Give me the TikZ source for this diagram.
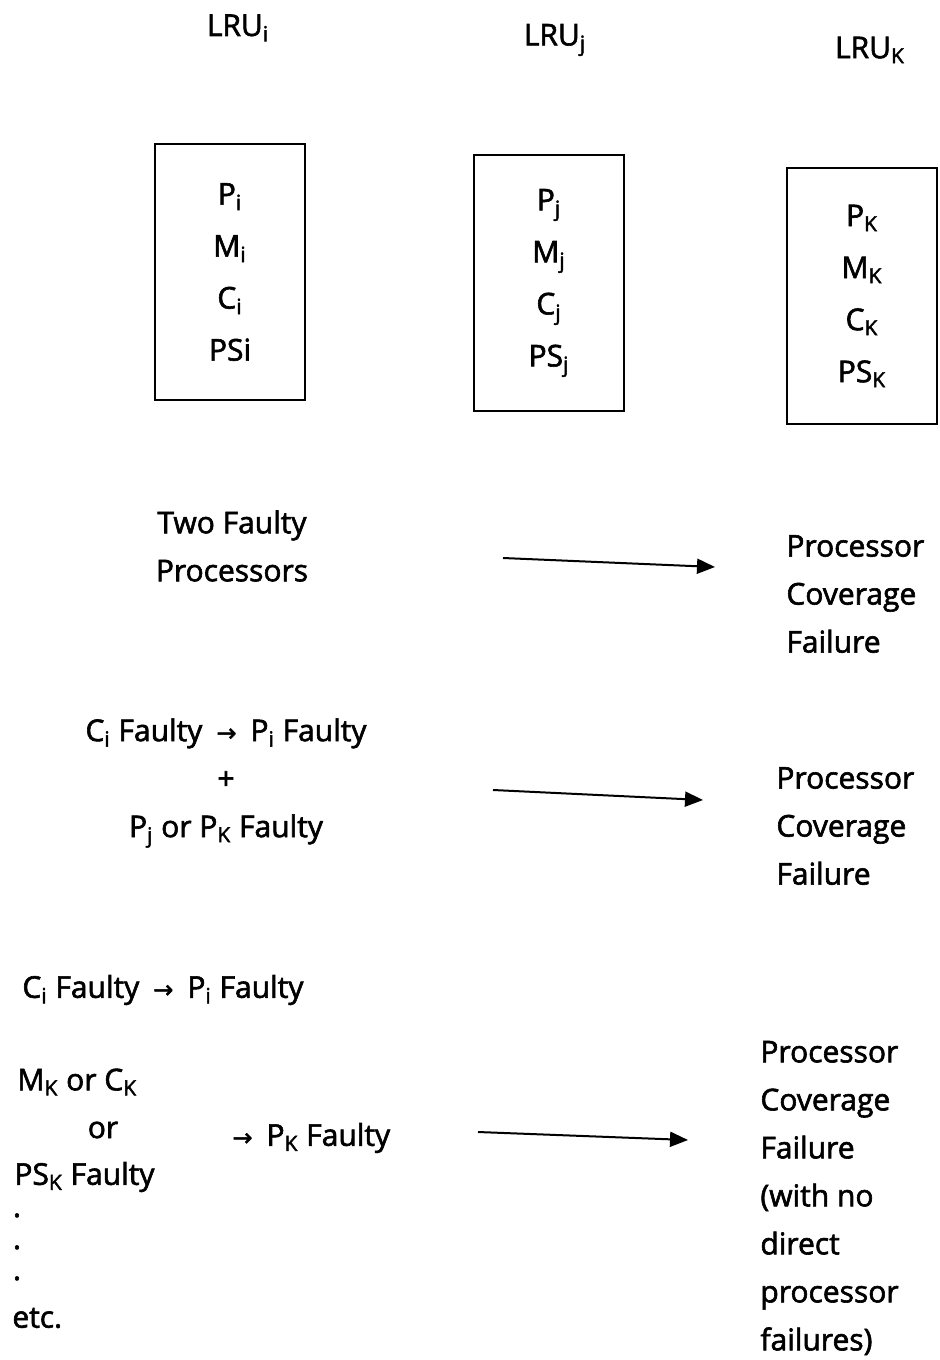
\documentclass[tikz,border=0pt]{standalone}
\usepackage{fontspec}
\setmainfont{Open Sans}[FakeBold=2]
\newfontfamily\arrowfont{DejaVu Sans}[FakeBold=2]
\usetikzlibrary{arrows.meta,positioning}

\newcommand{\lsub}[1]{\textsubscript{#1}}
\newcommand{\smallarr}{\hspace{7pt}{\arrowfont\fontsize{12}{12}\selectfont →}\hspace{7pt}}

\begin{document}
\begin{tikzpicture}[
    x=0.5pt, y=-0.5pt,
every node/.style={font=\fontsize{15}{24}\selectfont, inner sep=0pt},
lrubox/.style={draw, line width=1pt, minimum width=75pt, minimum height=128pt, align=center,
  font=\fontsize{15}{26}\selectfont},
lefttext/.style={align=left, anchor=west},
midtext/.style={align=center},
longarrow/.style={line width=1pt, -{Triangle[length=9pt,width=7.5pt]}},
]
\useasboundingbox (0,0) rectangle (940,1360);
% units and their boxes
\node (lrui) at (238,28) {LRU\lsub{i}};
\node (lruj) at (555,40) {LRU\lsub{j}};
\node (lruk) at (870,50) {LRU\lsub{K}};
\node[lrubox] (boxi) at (230,272) {P\lsub{i}\\M\lsub{i}\\C\lsub{i}\\PSi};
\node[lrubox] (boxj) at (549,283) {P\lsub{j}\\M\lsub{j}\\C\lsub{j}\\PS\lsub{j}};
\node[lrubox] (boxk) at (862,296) {P\lsub{K}\\M\lsub{K}\\C\lsub{K}\\PS\lsub{K}};

% first case
\node[midtext] (twofaulty) at (232,546) {Two Faulty\\Processors};
\node[lefttext] (failone) at (786,594) {Processor\\Coverage\\Failure};
\coordinate (startone) at (503,558);
\coordinate (endone) at (715,567);
\draw[longarrow] (startone) -- (endone);

% second case
\node[midtext] (cfaulty) at (226,783) {C\lsub{i} Faulty\smallarr P\lsub{i} Faulty\\+\\P\lsub{j} or P\lsub{K} Faulty};
\node[lefttext] (failtwo) at (776,826) {Processor\\Coverage\\Failure};
\coordinate (starttwo) at (493,790);
\coordinate (endtwo) at (703,800);
\draw[longarrow] (starttwo) -- (endtwo);

% third case
\node[lefttext] (cifaulty) at (22,990) {C\lsub{i} Faulty\smallarr P\lsub{i} Faulty};
\node[lefttext] (mkck) at (17,1082) {M\lsub{K} or C\lsub{K}};
\node (oror) at (103,1130) {or};
\node[lefttext] (pkfaulty) at (218,1138) {\smallarr P\lsub{K} Faulty};
\node[lefttext] (pskfaulty) at (14,1177) {PS\lsub{K} Faulty};
\foreach \y in {1217,1249,1280}
  \node[anchor=base] at (17,\y) {.};
\node[lefttext] (etc) at (12,1318) {etc.};
\node[lefttext] (failthree) at (760,1198) {Processor\\Coverage\\Failure\\(with no\\direct\\processor\\failures)};
\coordinate (startthree) at (478,1132);
\coordinate (endthree) at (688,1140);
\draw[longarrow] (startthree) -- (endthree);
\end{tikzpicture}
\end{document}
